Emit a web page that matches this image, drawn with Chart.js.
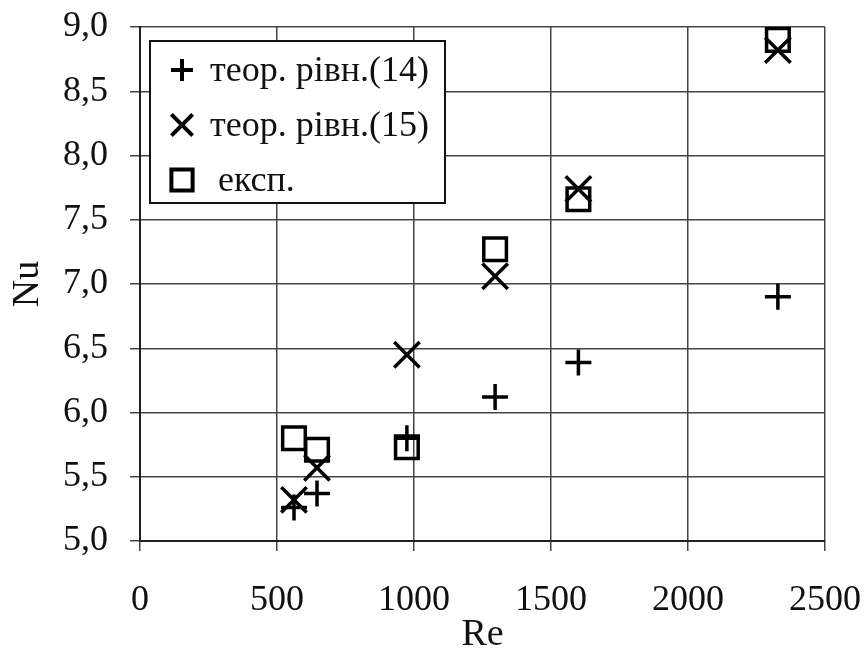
<!DOCTYPE html>
<html>
<head>
<meta charset="utf-8">
<script src="https://cdn.jsdelivr.net/npm/chart.js@4/dist/chart.umd.min.js"></script>
<style>
  html, body { margin: 0; padding: 0; background: #fff; }
  #wrap { width: 867px; height: 655px; }
</style>
</head>
<body>
<div id="wrap"><canvas id="chart" width="867" height="655"></canvas></div>
<script>
// values
var re = [562, 646, 974, 1296, 1600, 2328];
var nuEq14 = [5.26, 5.37, 5.80, 6.12, 6.39, 6.90];
var nuEq15 = [5.32, 5.57, 6.45, 7.06, 7.74, 8.82];
var nuExp = [5.80, 5.71, 5.73, 7.27, 7.66, 8.90];
var seriesNames = ['теор. рівн.(14)', 'теор. рівн.(15)', 'експ.'];
var xTicks = [0, 500, 1000, 1500, 2000, 2500];
var yTicks = [5.0, 5.5, 6.0, 6.5, 7.0, 7.5, 8.0, 8.5, 9.0];

var FONT = '"Liberation Serif", "Times New Roman", serif';

function pts(ys) {
    return re.map(function (x, i) { return { x: x, y: ys[i] }; });
}

// legend box drawn inside the plot area (top left)
var boxLegend = {
    id: 'boxLegend',
    afterDraw: function (chart) {
        var ctx = chart.ctx;
        var x0 = 150, y0 = 41, w = 295, h = 162;
        ctx.save();
        ctx.fillStyle = '#fff';
        ctx.fillRect(x0, y0, w, h);
        ctx.strokeStyle = '#111';
        ctx.lineWidth = 2;
        ctx.strokeRect(x0, y0, w, h);
        ctx.font = '36px ' + FONT;
        ctx.textBaseline = 'middle';
        chart.data.datasets.forEach(function (ds, i) {
            var cy = y0 + 29 + i * 55;
            ctx.strokeStyle = '#000';
            ctx.fillStyle = 'rgba(0,0,0,0)';
            ctx.lineWidth = 4;
            var r = ds.pointStyle === 'cross' ? 11 : 15;
            Chart.helpers.drawPoint(ctx, { pointStyle: ds.pointStyle, rotation: 0, radius: r, borderWidth: 4 }, 182, cy);
            ctx.fillStyle = '#111';
            ctx.fillText(ds.label, i === 2 ? 218 : 210, cy + 2);
        });
        ctx.restore();
    }
};

new Chart(document.getElementById('chart'), {
    type: 'scatter',
    data: {
        datasets: [
            {
                label: seriesNames[0], data: pts(nuEq14), pointStyle: 'cross',
                pointRadius: 13, borderColor: '#000', backgroundColor: '#000', pointBorderWidth: 3.5
            },
            {
                label: seriesNames[1], data: pts(nuEq15), pointStyle: 'crossRot',
                pointRadius: 18, borderColor: '#000', backgroundColor: '#000', pointBorderWidth: 3.5
            },
            {
                label: seriesNames[2], data: pts(nuExp), pointStyle: 'rect',
                pointRadius: 16, borderColor: '#000', backgroundColor: 'rgba(255,255,255,0)', pointBorderWidth: 3.5
            }
        ]
    },
    options: {
        responsive: false,
        animation: false,
        events: [],
        layout: { padding: { top: 27, right: 42, left: 0, bottom: 0 } },
        plugins: { legend: { display: false }, tooltip: { enabled: false } },
        scales: {
            x: {
                type: 'linear', min: 0, max: 2500,
                afterBuildTicks: function (s) { s.ticks = xTicks.map(function (v) { return { value: v }; }); },
                afterFit: function (s) { s.height = 114; s.paddingLeft = 0; s.paddingRight = 0; },
                grid: { color: '#444', lineWidth: 1.5, tickLength: 10, tickColor: '#444' },
                border: { color: '#222', width: 2 },
                ticks: {
                    color: '#111', font: { family: FONT, size: 36 }, padding: 28, maxRotation: 0,
                    callback: function (v) { return String(v); }
                },
                title: { display: true, text: 'Re', color: '#111', font: { family: FONT, size: 38 }, padding: { top: 0, bottom: -3 } }
            },
            y: {
                type: 'linear', min: 5, max: 9,
                afterBuildTicks: function (s) { s.ticks = yTicks.map(function (v) { return { value: v }; }); },
                afterFit: function (s) { s.width = 140; s.paddingTop = 0; s.paddingBottom = 0; },
                grid: { color: '#444', lineWidth: 1.5, tickLength: 10, tickColor: '#444' },
                border: { color: '#222', width: 2 },
                ticks: {
                    color: '#111', font: { family: FONT, size: 36 }, padding: 22,
                    callback: function (v) { return v.toFixed(1).replace('.', ','); }
                },
                title: { display: true, text: 'Nu', color: '#111', font: { family: FONT, size: 38 }, padding: 5 }
            }
        }
    },
    plugins: [boxLegend]
});
</script>
</body>
</html>
